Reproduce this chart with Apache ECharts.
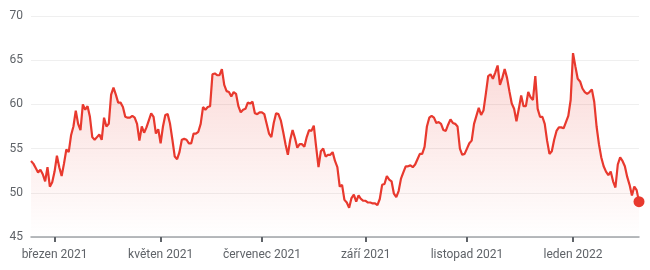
<!DOCTYPE html>
<html>
<head>
<meta charset="utf-8">
<script src="https://cdn.jsdelivr.net/npm/echarts@6/dist/echarts.min.js"></script>
<style>
  html, body { margin: 0; padding: 0; background: #fff; }
  #chart { width: 650px; height: 270px; }
</style>
</head>
<body>
<div id="chart"></div>
<script>
// první obchodní den v grafu (pak jen pracovní dny)
const startDate = '2021-02-15'
const monthNames = ['leden', 'únor', 'březen', 'duben', 'květen', 'červen', 'červenec', 'srpen', 'září', 'říjen', 'listopad', 'prosinec']
const labelMonths = [0, 2, 4, 6, 8, 10]  // leden, březen, květen, ...
const yMin = 45
const yMax = 70
const yStep = 5

// denní ceny (zavírací)
const prices = [
  53.6, 53.3, 52.8, 52.3, 52.6, 52.1, 51.3, 52.9, 50.7, 51.2,
  52.4, 54.2, 52.9, 51.9, 53.3, 54.9, 54.6, 56.5, 57.5, 59.3,
  57.8, 57.1, 60.0, 59.4, 59.8, 58.6, 56.3, 56.0, 56.3, 56.6,
  56.0, 58.5, 57.5, 57.8, 61.1, 61.9, 61.1, 60.2, 60.2, 59.7,
  58.6, 58.5, 58.5, 58.7, 58.5, 57.8, 55.9, 57.5, 56.8, 57.4,
  58.2, 59.0, 58.6, 56.7, 57.2, 55.6, 57.5, 58.8, 58.9, 57.8,
  56.0, 54.1, 53.8, 54.6, 56.0, 56.1, 56.0, 55.6, 55.6, 56.7,
  56.7, 56.9, 57.8, 59.7, 59.4, 59.7, 59.8, 63.4, 63.5, 63.3,
  63.3, 64.0, 62.2, 61.5, 61.4, 60.9, 61.4, 61.2, 59.8, 59.1,
  59.4, 59.5, 60.2, 60.1, 60.3, 59.0, 58.9, 59.1, 59.1, 58.9,
  57.8, 56.7, 56.3, 57.9, 59.0, 58.9, 58.2, 56.9, 55.5, 54.3,
  56.0, 57.1, 56.2, 55.1, 55.5, 55.5, 55.2, 56.3, 57.1, 57.0,
  57.6, 55.2, 52.9, 54.7, 55.0, 54.1, 54.3, 54.3, 54.6, 53.6,
  52.9, 50.7, 50.9, 49.2, 48.9, 48.3, 49.4, 49.8, 49.0, 49.7,
  49.3, 49.1, 49.1, 48.9, 48.9, 48.8, 48.8, 48.6, 49.3, 50.9,
  51.0, 51.9, 51.5, 51.3, 49.9, 49.5, 50.2, 51.6, 52.3, 53.0,
  53.0, 53.1, 52.9, 53.2, 53.8, 54.4, 54.4, 55.2, 57.5, 58.5,
  58.7, 58.5, 57.9, 58.0, 57.8, 57.1, 57.0, 57.7, 58.3, 57.9,
  57.8, 57.5, 55.0, 54.3, 54.4, 55.0, 55.6, 55.9, 57.8, 58.7,
  59.6, 58.8, 59.3, 61.2, 63.2, 63.4, 62.9, 63.6, 64.4, 62.2,
  63.0, 64.0, 63.0, 61.5, 60.1, 59.5, 58.1, 59.5, 61.0, 59.8,
  59.8, 61.4, 60.8, 60.5, 63.2, 59.5, 58.6, 58.6, 57.8, 55.9,
  54.4, 54.7, 56.0, 57.0, 57.4, 57.4, 57.3, 58.0, 58.7, 60.5,
  65.8, 64.3, 62.9, 62.6, 61.8, 61.4, 61.2, 61.4, 61.7, 60.3,
  57.5, 55.5, 54.0, 53.0, 52.4, 52.0, 52.4, 51.3, 50.6, 53.2,
  54.0, 53.6, 53.0, 51.8, 50.9, 49.7, 50.7, 50.3, 49.0
]

// pracovní dny od startDate
const dates = []
const d = new Date(startDate + 'T00:00:00Z')
while (dates.length < prices.length) {
  const wd = d.getUTCDay()
  if (wd !== 0 && wd !== 6) dates.push(d.toISOString().slice(0, 10))
  d.setUTCDate(d.getUTCDate() + 1)
}

function monthOf(s) { return parseInt(s.slice(5, 7), 10) - 1 }

// tick jen na prvním obchodním dni vybraných měsíců
function isLabelDay(idx) {
  if (idx === 0) return false
  const m = monthOf(dates[idx])
  return m !== monthOf(dates[idx - 1]) && labelMonths.includes(m)
}

const red = '#e8392e'
const chart = echarts.init(document.getElementById('chart'))

chart.setOption({
  animation: false,
  textStyle: { fontFamily: 'Roboto, Arial, sans-serif' },
  grid: { left: 31, right: 11, top: 16, bottom: 33 },
  xAxis: {
    type: 'category',
    data: dates,
    boundaryGap: false,
    axisLine: { lineStyle: { color: '#a0a4a8', width: 1.5 } },
    axisTick: {
      interval: (idx) => isLabelDay(idx),
      length: 5,
      lineStyle: { color: '#5f6368', width: 2 }
    },
    axisLabel: {
      interval: (idx) => isLabelDay(idx),
      color: '#5f6368',
      fontSize: 12,
      margin: 12,
      formatter: (v) => monthNames[monthOf(v)] + ' ' + v.slice(0, 4)
    },
    splitLine: { show: false }
  },
  yAxis: {
    type: 'value',
    min: yMin,
    max: yMax,
    interval: yStep,
    axisLine: { show: false },
    axisTick: { show: false },
    axisLabel: { color: '#5f6368', fontSize: 12, margin: 8 },
    splitLine: { lineStyle: { color: '#efefef', width: 1 } }
  },
  series: [
    {
      type: 'line',
      data: prices,
      symbol: 'none',
      lineStyle: { color: red, width: 2.2 },
      areaStyle: {
        color: new echarts.graphic.LinearGradient(0, 0, 0, 1, [
          { offset: 0, color: 'rgba(232,57,46,0.28)' },
          { offset: 1, color: 'rgba(232,57,46,0)' }
        ])
      }
    },
    {
      // tečka na poslední ceně
      type: 'scatter',
      data: [[dates.length - 1, prices[prices.length - 1]]],
      symbolSize: 11,
      itemStyle: { color: red, opacity: 1 },
      z: 5
    }
  ]
})
</script>
</body>
</html>
